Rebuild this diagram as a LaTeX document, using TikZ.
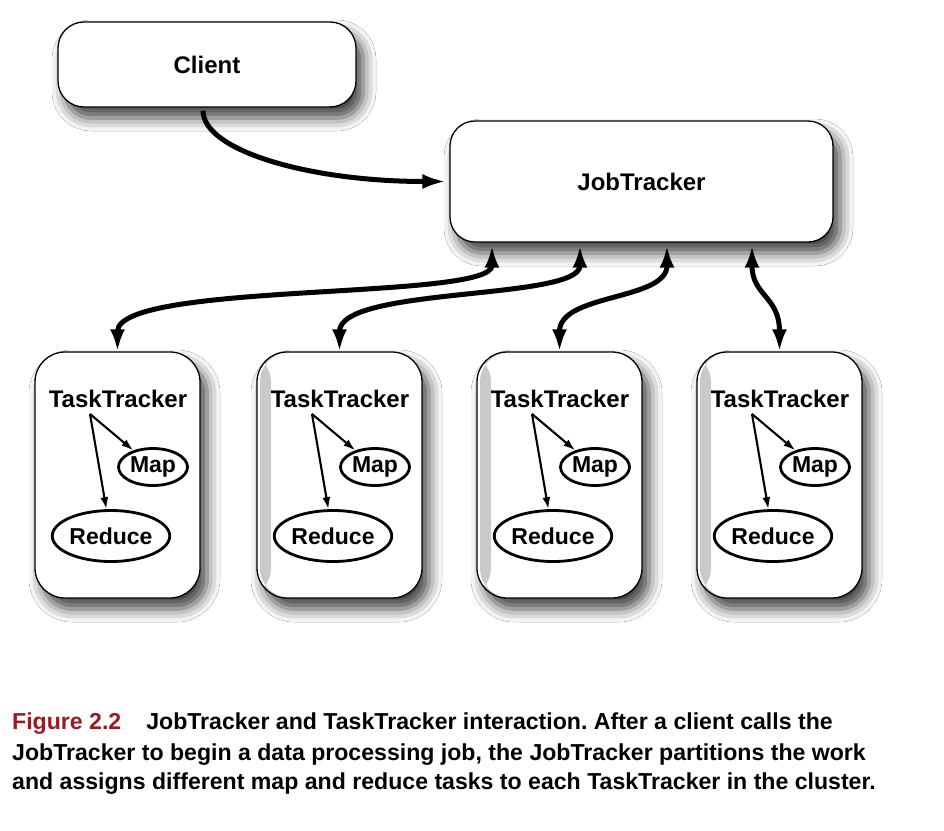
\documentclass[tikz,border=0pt]{standalone}
\usepackage{fontspec}
\setmainfont{Liberation Sans}
\usetikzlibrary{arrows.meta,shapes.geometric,shadows.blur}
\definecolor{figred}{HTML}{9A1B1F}
\tikzset{
  box/.style={draw, line width=1.3pt, fill=white, rounded corners=#1, inner sep=0pt,
    font=\fontsize{24}{28}\selectfont\bfseries,
    blur shadow={shadow xshift=7pt, shadow yshift=-11pt, shadow blur radius=13pt, shadow opacity=75}},
  box/.default=26pt,
  stripe/.style={path picture={\shade[left color=black!22, right color=black!4]
    ([xshift=3pt]path picture bounding box.north west) rectangle
    ([xshift=14pt]path picture bounding box.south west);}},
  nostripe/.style={},
  tlabel/.style={inner sep=0pt, font=\fontsize{24}{28}\selectfont\bfseries},
  oval/.style={ellipse, draw, line width=2.8pt, inner sep=0pt, font=\fontsize{23}{28}\selectfont\bfseries},
  flow/.style={line width=5pt, -{Latex[length=24pt,width=15pt]}},
  duplex/.style={line width=5pt, {Latex[length=22pt,width=15pt]}-{Latex[length=22pt,width=15pt]}},
  thin/.style={line width=2.1pt, -{Latex[length=12pt,width=8pt]}},
  caption/.style={inner sep=0pt, anchor=base west, font=\fontsize{23.1}{26}\selectfont\bfseries}
}
\begin{document}
\frenchspacing
\begin{tikzpicture}[x=1pt,y=-1pt]% ------ JobTracker / TaskTracker ----------------
    \fill[white] (0,0) rectangle (944,830);
    \useasboundingbox (0,0) rectangle (944,830);
    \node[box, minimum width=298pt, minimum height=85pt] (cl) at (207,64.5) {Client};
    \node[box=25pt, minimum width=383pt, minimum height=121pt] (jt) at (641.5,181.5) {JobTracker};
    \foreach \i/\o/\s in {1/0/nostripe, 2/222/stripe, 3/442/stripe, 4/662/stripe} {
      \node[box=30pt, \s, minimum width=165pt, minimum height=246pt] (tt\i) at (117.5+\o,475) {};
      \node[tlabel] (lab\i) at (118+\o,399) {TaskTracker};
      \node[oval, minimum width=69pt, minimum height=37pt] (map\i) at (153+\o,467) {Map};
      \node[oval, minimum width=112pt, minimum height=51pt] (red\i) at (111+\o,536) {Reduce};
      \coordinate (fork\i) at (90+\o,414);
      \draw[thin] (fork\i) -- (map\i);
      \draw[thin] (fork\i) -- (red\i);
    }
    \draw[flow, shorten >=3pt] ([xshift=-4pt,yshift=-3pt]cl.south) .. controls +(0,40) and +(-140,0) .. (jt.west);
    \draw[duplex] ([xshift=-149.5pt,yshift=-3pt]jt.south) .. controls +(0,55) and +(0,-70) .. (tt1.north);
    \draw[duplex] ([xshift=-61.5pt,yshift=-3pt]jt.south) .. controls +(0,55) and +(0,-65) .. (tt2.north);
    \draw[duplex] ([xshift=25.5pt,yshift=-3pt]jt.south) .. controls +(0,55) and +(0,-58) .. (tt3.north);
    \draw[duplex] ([xshift=110.5pt,yshift=-3pt]jt.south) .. controls +(0,50) and +(0,-55) .. (tt4.north);
    \node[caption] (cap1) at (12,729) {\textcolor{figred}{Figure 2.2}\hspace{25pt}JobTracker and TaskTracker interaction. After a client calls the};
    \node[caption] (cap2) at (12,760) {JobTracker to begin a data processing job, the JobTracker partitions the work};
    \node[caption] (cap3) at (12,789) {and assigns different map and reduce tasks to each TaskTracker in the cluster.};
\end{tikzpicture}
\end{document}
